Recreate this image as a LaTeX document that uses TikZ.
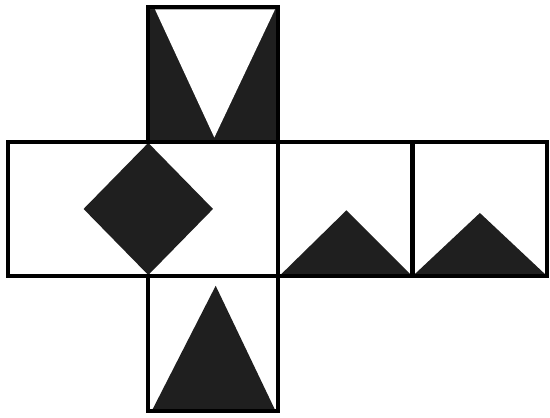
\documentclass[tikz,border=0pt]{standalone}
\usepackage{tikz}

\tikzset{
    edge/.style={line width=1.7pt, line join=miter},
    dark/.style={fill=black!88, draw=none}
}

\begin{document}
\begin{tikzpicture}[scale=2]

\useasboundingbox (-0.06,-0.05) rectangle (4.02,3.05);

% Top face
\fill[dark] (1.04,2) rectangle (2,3);
\fill[white] (1.09,2.98) -- (1.98,2.98) -- (1.53,2.03) -- cycle;

% Diamond on the long face
\fill[dark] (1.04,1.99) -- (1.52,1.5) -- (1.04,1.01) -- (0.56,1.5) -- cycle;

% Triangles on the right faces
\fill[dark] (2.02,1.01) -- (2.99,1.01) -- (2.51,1.49) -- cycle;
\fill[dark] (3.01,1.01) -- (3.99,1.01) -- (3.5,1.47) -- cycle;

% Bottom face
\fill[dark] (1.07,0.01) -- (1.98,0.01) -- (1.54,0.93) -- cycle;

% Outlines
\draw[edge] (1.04,2) rectangle (2,3);
\draw[edge] (0,1) rectangle (2,2);
\draw[edge] (2,1) rectangle (3,2);
\draw[edge] (3,1) rectangle (4,2);
\draw[edge] (1.04,0) rectangle (2,1);

\end{tikzpicture}
\end{document}
